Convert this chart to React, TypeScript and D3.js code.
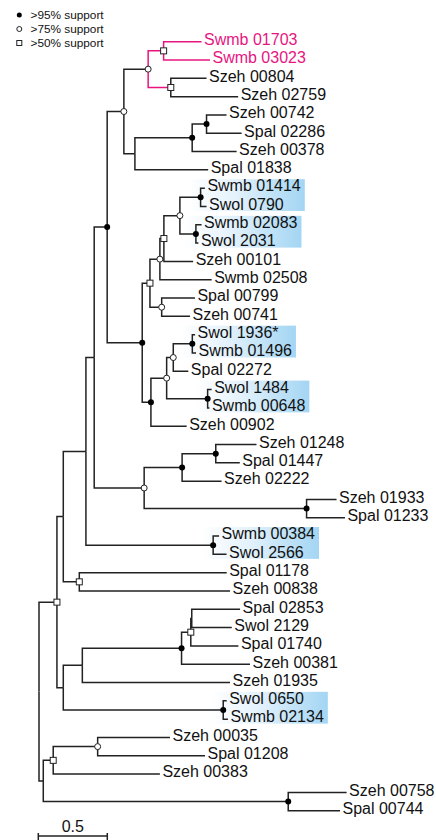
import * as d3 from "d3";
import { useEffect, useRef } from "react";

// tree topology with branch lengths; internal labels = support mark (f >95, o >75, s >50, n none), "|p" = pink clade
const treeNewick = [
  "(((((((",
  "((Swmb 01703:0.275,Swmb 03023:0.336)s|p:0.112,(Szeh 00804:0.259,Szeh 02759:0.488)s:0.164)o|p:0.176,",
  "(((Szeh 00742:0.145,Spal 02286:0.254)f:0.104,Szeh 00378:0.322)f:0.415,Spal 01838:0.531)n:0.080",
  ")o:0.121,((((",
  "((Swmb 01414:0.031,Swol 0790:0.043)f:0.150,(Swmb 02083:0.041,Swol 2031:0.018)f:0.116)o:0.116,",
  "Szeh 00101:0.212)s:0.029,Swmb 02508:0.375)o:0.072,",
  "(Spal 00799:0.241,Szeh 00741:0.205)o:0.085)s:0.056,",
  "((((Swol 1936*:0.020,Swmb 01496:0.027)f:0.138,Spal 02272:0.109)o:0.048,",
  "(Swol 1484:0.029,Swmb 00648:0.013)f:0.297)o:0.114,Szeh 00902:0.259)f:0.063",
  ")f:0.254)f:0.094,",
  "(((Szeh 01248:0.295,Spal 01447:0.174)f:0.244,Szeh 02222:0.286)f:0.275,",
  "(Szeh 01933:0.217,Spal 01233:0.278)f:1.177)o:0.362)n:0.060,",
  "(Swmb 00384:0.043,Swol 2566:0.097)f:0.922)n:0.164,",
  "(Spal 01178:1.068,Szeh 00838:1.092)s:0.116)n:0.046,",
  "(((((Spal 02853:0.350,Swol 2129:0.290)n:0.007,Spal 01740:0.345)s:0.067,Szeh 00381:0.496)f:0.719,",
  "Szeh 01935:1.070)n:0.138,(Swol 0650:0.025,Swmb 02134:0.034)f:1.159)n:0.046)s:0.130,",
  "(((Szeh 00035:0.524,Spal 01208:0.778)o:0.322,Szeh 00383:0.773)s:0.072,",
  "(Szeh 00758:0.423,Spal 00744:0.375)f:1.775)n:0.031)n;",
].join("");

const highlightPairs = [
  ["Swmb 01414", "Swol 0790"],
  ["Swmb 02083", "Swol 2031"],
  ["Swol 1936*", "Swmb 01496"],
  ["Swol 1484", "Swmb 00648"],
  ["Swmb 00384", "Swol 2566"],
  ["Swol 0650", "Swmb 02134"],
];

const legendMarks = ["f", "o", "s"];
const legendLabels = [">95% support", ">75% support", ">50% support"];
const scaleBarValue = 0.5;

const PINK = "#e8157f";
const INK = "#222";

function parseNewick(s) {
  let i = 0;
  const readToken = () => {
    const start = i;
    while (i < s.length && !"(),:;".includes(s[i])) i++;
    return s.slice(start, i).trim();
  };
  const node = () => {
    const n = { name: "", length: 0, children: undefined };
    if (s[i] === "(") {
      n.children = [];
      i++;
      n.children.push(node());
      while (s[i] === ",") {
        i++;
        n.children.push(node());
      }
      i++;
    }
    n.name = readToken();
    if (s[i] === ":") {
      i++;
      n.length = parseFloat(readToken());
    }
    return n;
  };
  return node();
}

function drawMark(g, kind, x, y, r) {
  if (kind === "f") {
    g.append("circle").attr("cx", x).attr("cy", y).attr("r", r).attr("fill", "#000");
  } else if (kind === "o") {
    g.append("circle").attr("cx", x).attr("cy", y).attr("r", r)
      .attr("fill", "#fff").attr("stroke", INK).attr("stroke-width", 1);
  } else if (kind === "s") {
    g.append("rect").attr("x", x - r).attr("y", y - r).attr("width", 2 * r).attr("height", 2 * r)
      .attr("fill", "#fff").attr("stroke", INK).attr("stroke-width", 1);
  }
}

export default function App() {
  const ref = useRef(null);

  useEffect(() => {
    const svg = d3.select(ref.current);
    svg.selectAll("*").remove();

    const root = d3.hierarchy(parseNewick(treeNewick));
    root.eachBefore((d) => {
      d.dist = d.parent ? d.parent.dist + d.data.length : 0;
      const parts = d.data.name.split("|");
      d.mark = d.children ? parts[0] : "";
      d.pink = parts[1] === "p";
    });

    const leaves = root.leaves();
    const x = d3.scaleLinear().domain([0, 1]).range([39, 177]);
    const y = d3.scaleLinear().domain([0, leaves.length - 1]).range([41.7, 810.7]);
    leaves.forEach((d, i) => (d.py = y(i)));
    root.eachAfter((d) => {
      d.px = x(d.dist);
      if (d.children) d.py = (d.children[0].py + d.children[d.children.length - 1].py) / 2;
    });

    const defs = svg.append("defs");
    const grad = defs.append("linearGradient").attr("id", "hl").attr("x1", 0).attr("x2", 1).attr("y1", 0).attr("y2", 0);
    grad.append("stop").attr("offset", "0%").attr("stop-color", "#ffffff");
    grad.append("stop").attr("offset", "40%").attr("stop-color", "#e4f2fc");
    grad.append("stop").attr("offset", "100%").attr("stop-color", "#a3d5f3");

    const gBox = svg.append("g");
    const gLinks = svg.append("g");
    const gMarks = svg.append("g");
    const gText = svg.append("g");

    // branches
    gLinks.selectAll("path")
      .data(root.descendants().filter((d) => d.parent))
      .join("path")
      .attr("d", (d) => `M${d.parent.px},${d.parent.py}V${d.py}H${d.px}`)
      .attr("fill", "none")
      .attr("stroke", (d) => (d.parent.pink ? PINK : INK))
      .attr("stroke-width", 1.5);

    // leaf labels
    const textEnd = {};
    gText.selectAll("text")
      .data(leaves)
      .join("text")
      .attr("x", (d) => d.px + 2.5)
      .attr("y", (d) => d.py + 3.3)
      .attr("font-family", "'Liberation Sans', Arial, sans-serif")
      .attr("font-size", 16)
      .attr("fill", (d) => (d.parent.pink ? PINK : "#111"))
      .text((d) => d.data.name)
      .each(function (d) {
        textEnd[d.data.name] = d.px + 2.5 + this.getComputedTextLength();
      });

    // highlight boxes
    const byName = {};
    leaves.forEach((d) => (byName[d.data.name] = d));
    highlightPairs.forEach((pair) => {
      const a = byName[pair[0]];
      const b = byName[pair[1]];
      const left = a.parent.px - 12;
      const right = Math.max(textEnd[pair[0]], textEnd[pair[1]]) + 4;
      gBox.append("rect")
        .attr("x", left)
        .attr("y", a.py - 9)
        .attr("width", right - left)
        .attr("height", b.py - a.py + 13.5)
        .attr("fill", "url(#hl)");
    });

    // support marks
    root.descendants().filter((d) => d.children).forEach((d) => {
      drawMark(gMarks, d.mark, d.px, d.py, 3);
    });

    // legend
    legendMarks.forEach((m, i) => {
      const ly = 15 + i * 14;
      drawMark(svg, m, 19.3, ly, 2.5);
      svg.append("text")
        .attr("x", 30.5)
        .attr("y", ly + 4)
        .attr("font-family", "'Liberation Sans', Arial, sans-serif")
        .attr("font-size", 11.8)
        .attr("fill", "#111")
        .text(legendLabels[i]);
    });

    // scale bar
    const x0 = x(0) - 0.7;
    const x1 = x(scaleBarValue) - 0.7;
    const sb = svg.append("g").attr("stroke", INK).attr("stroke-width", 1.5);
    sb.append("line").attr("x1", x0).attr("x2", x1).attr("y1", 836).attr("y2", 836);
    sb.append("line").attr("x1", x0).attr("x2", x0).attr("y1", 833).attr("y2", 840);
    sb.append("line").attr("x1", x1).attr("x2", x1).attr("y1", 833).attr("y2", 840);
    svg.append("text")
      .attr("x", (x0 + x1) / 2)
      .attr("y", 831.5)
      .attr("text-anchor", "middle")
      .attr("font-family", "'Liberation Sans', Arial, sans-serif")
      .attr("font-size", 16)
      .attr("fill", "#111")
      .text(String(scaleBarValue));
  }, []);

  return (
    <svg
      ref={ref}
      width={436}
      height={840}
      style={{ position: "absolute", left: 0, top: 0, background: "#fff" }}
    />
  );
}
